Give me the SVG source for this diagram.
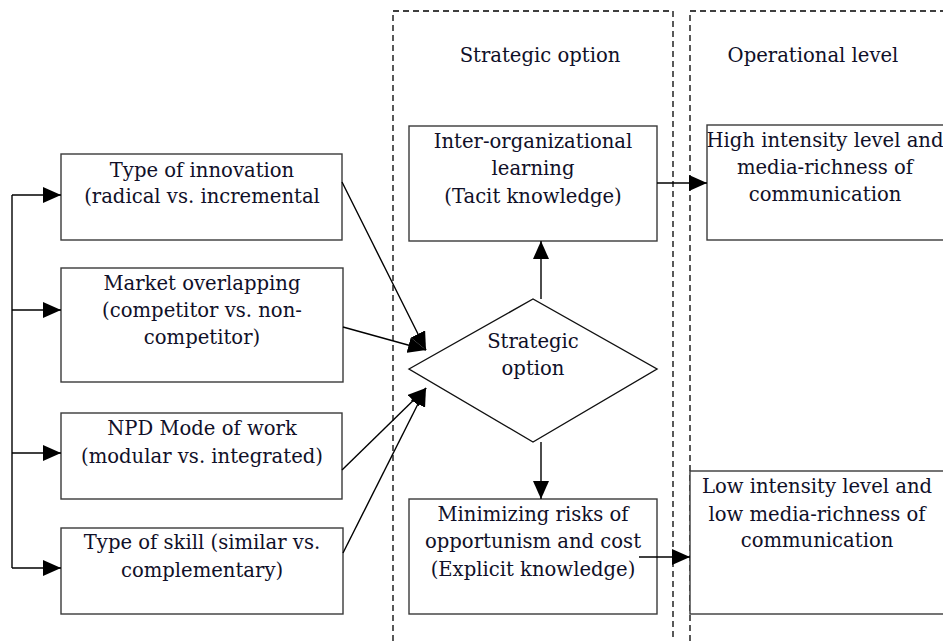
<svg xmlns="http://www.w3.org/2000/svg" width="943" height="641" viewBox="0 0 943 641">
  <style>
    .box { fill: #fff; stroke: #3a3a3a; stroke-width: 1.4; }
    .dash { fill: none; stroke: #000; stroke-width: 1.3; stroke-dasharray: 6 4; }
    .line { fill: none; stroke: #000; stroke-width: 1.4; }
    text { font-family: "DejaVu Serif", "Liberation Serif", serif; font-size: 19.6px; fill: #101028; text-anchor: middle; }
  </style>
  <defs>
    <marker id="head" markerUnits="userSpaceOnUse" markerWidth="18" markerHeight="16" refX="18" refY="8" orient="auto">
      <path d="M0,0 L18,8 L0,16 z" fill="#000"/>
    </marker>
  </defs>

  <!-- level frames -->
  <g id="frames">
    <rect class="dash" x="393" y="11" width="280" height="640"/>
    <rect class="dash" x="690" y="11" width="270" height="640"/>
    <text x="540" y="62">Strategic option</text>
    <text x="813" y="62">Operational level</text>
  </g>

  <g id="innovation">
    <rect class="box" x="61" y="154" width="281" height="86"/>
    <text x="202" y="177">Type of innovation</text>
    <text x="202" y="203">(radical vs. incremental</text>
  </g>

  <g id="market">
    <rect class="box" x="61" y="268" width="282" height="114"/>
    <text x="202" y="290">Market overlapping</text>
    <text x="202" y="317">(competitor vs. non-</text>
    <text x="202" y="344">competitor)</text>
  </g>

  <g id="npd">
    <rect class="box" x="61" y="413" width="281" height="86"/>
    <text x="202" y="435">NPD Mode of work</text>
    <text x="202" y="463">(modular vs. integrated)</text>
  </g>

  <g id="skill">
    <rect class="box" x="61" y="528" width="282" height="86"/>
    <text x="202" y="549">Type of skill (similar vs.</text>
    <text x="202" y="577">complementary)</text>
  </g>

  <g id="option">
    <path class="box" d="M409,369 L533,299 L657,369 L533,442 z" style="stroke:#111"/>
    <text x="533" y="348">Strategic</text>
    <text x="533" y="375">option</text>
  </g>

  <g id="learning">
    <rect class="box" x="409" y="126" width="248" height="115"/>
    <text x="533" y="148">Inter-organizational</text>
    <text x="533" y="175">learning</text>
    <text x="533" y="203">(Tacit knowledge)</text>
  </g>

  <g id="minimizing">
    <rect class="box" x="409" y="499" width="248" height="115"/>
    <text x="533" y="521">Minimizing risks of</text>
    <text x="533" y="548">opportunism and cost</text>
    <text x="533" y="576">(Explicit knowledge)</text>
  </g>

  <g id="high">
    <rect class="box" x="707" y="125" width="260" height="115"/>
    <text x="825" y="147">High intensity level and</text>
    <text x="825" y="174">media-richness of</text>
    <text x="825" y="201">communication</text>
  </g>

  <g id="low">
    <rect class="box" x="690" y="471" width="270" height="143"/>
    <text x="817" y="493">Low intensity level and</text>
    <text x="817" y="521">low media-richness of</text>
    <text x="817" y="547">communication</text>
  </g>

  <!-- connectors -->
  <g id="connectors">
    <path class="line" d="M12,195 V568"/>
    <path class="line" d="M12,195 H61" marker-end="url(#head)"/>
    <path class="line" d="M12,310 H61" marker-end="url(#head)"/>
    <path class="line" d="M12,453 H61" marker-end="url(#head)"/>
    <path class="line" d="M12,568 H61" marker-end="url(#head)"/>
    <path class="line" d="M342,182 L426,350" marker-end="url(#head)"/>
    <path class="line" d="M343,327 L426,350" marker-end="url(#head)"/>
    <path class="line" d="M342,470 L426,388" marker-end="url(#head)"/>
    <path class="line" d="M343,553 L426,388" marker-end="url(#head)"/>
    <path class="line" d="M541,299 V241" marker-end="url(#head)"/>
    <path class="line" d="M541,442 V499" marker-end="url(#head)"/>
    <path class="line" d="M657,183 H707" marker-end="url(#head)"/>
    <path class="line" d="M639,557 H690" marker-end="url(#head)"/>
  </g>
</svg>
